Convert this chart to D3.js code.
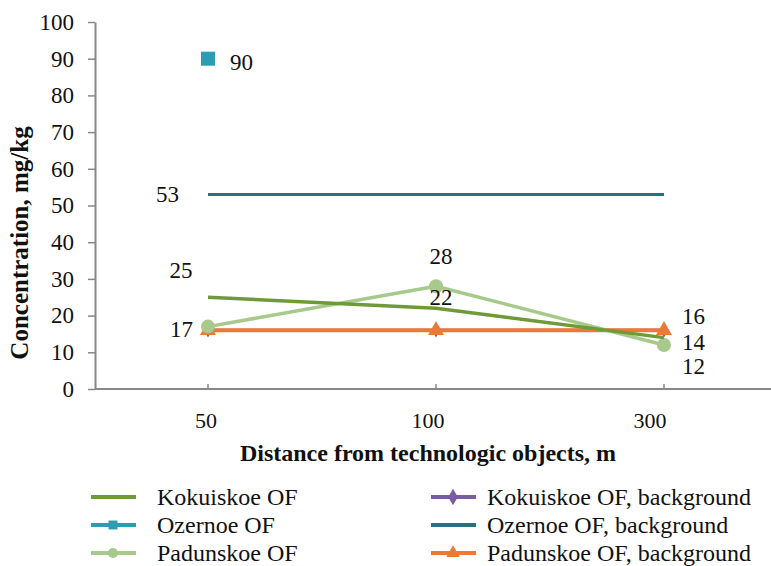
<html>
<head>
<script src="https://d3js.org/d3.v7.min.js"></script>
</head>
<body style="margin:0">
<svg id="chart" width="771" height="566"></svg>
<script>
// categories and values
var distances = ["50", "100", "300"];
var kokuiskoe = [25, 22, 14];
var ozernoe = [90, null, null];
var padunskoe = [17, 28, 12];
var kokuiskoeBg = [16, 16, 16];
var ozernoeBg = [53, 53, 53];
var padunskoeBg = [16, 16, 16];
var yTicks = [0, 10, 20, 30, 40, 50, 60, 70, 80, 90, 100];

var FONT = "Times New Roman";
var svg = d3.select("#chart");

var plotLeft = 95, plotTop = 22, plotBottom = 389;
var x = d3.scalePoint().domain(distances).range([208, 664]);
var y = d3.scaleLinear().domain([0, 100]).range([plotBottom, plotTop]);

// y axis
var yAxis = svg.append("g").attr("transform", "translate(" + plotLeft + ",0)")
  .call(d3.axisLeft(y).tickValues(yTicks).tickSize(7).tickSizeOuter(0));
yAxis.attr("font-family", FONT).attr("font-size", "23px");
yAxis.select(".domain").attr("stroke", "#888").attr("stroke-width", 2);
yAxis.selectAll(".tick line").attr("stroke", "#888").attr("stroke-width", 1.5);
yAxis.selectAll(".tick text").attr("x", -21).attr("fill", "#111");

// x axis line
svg.append("line").attr("x1", plotLeft).attr("x2", 771).attr("y1", plotBottom).attr("y2", plotBottom)
  .attr("stroke", "#888").attr("stroke-width", 2);
svg.selectAll(".xtick").data(distances).enter().append("line")
  .attr("x1", function(d) { return x(d); }).attr("x2", function(d) { return x(d); })
  .attr("y1", plotBottom).attr("y2", plotBottom - 5)
  .attr("stroke", "#888").attr("stroke-width", 1.5);
svg.selectAll(".xlab").data(distances).enter().append("text")
  .attr("x", function(d, i) { return x(d) - 2 - 6 * i; }).attr("y", 428)
  .attr("text-anchor", "middle").attr("font-family", FONT).attr("font-size", "22px").attr("fill", "#111")
  .text(function(d) { return d; });

// axis titles
svg.append("text").attr("x", 428).attr("y", 461).attr("text-anchor", "middle")
  .attr("font-family", FONT).attr("font-size", "24px").attr("font-weight", "bold").attr("fill", "#111")
  .text("Distance from technologic objects, m");
svg.append("text").attr("transform", "translate(28,243) rotate(-90)")
  .attr("text-anchor", "middle").attr("font-family", FONT).attr("font-size", "25px").attr("font-weight", "bold")
  .attr("fill", "#111")
  .text("Concentration, mg/kg");

var line = d3.line()
  .defined(function(d) { return d != null; })
  .x(function(d, i) { return x(distances[i]); })
  .y(function(d) { return y(d); });

function drawLine(vals, color, w) {
  svg.append("path").datum(vals).attr("d", line)
    .attr("fill", "none").attr("stroke", color).attr("stroke-width", w)
    .attr("stroke-linejoin", "round");
}

var cPurple = "#7a5ba6", cOzBg = "#2c6f80", cOrange = "#ec7a36",
    cKok = "#6f9a38", cPad = "#a7c98b", cOz = "#2a9db3";

// Kokuiskoe background (hidden under Padunskoe background)
drawLine(kokuiskoeBg, cPurple, 3);
svg.selectAll(".kbg").data(kokuiskoeBg).enter().append("path")
  .attr("d", d3.symbol().type(d3.symbolDiamond).size(60))
  .attr("transform", function(d, i) { return "translate(" + x(distances[i]) + "," + y(d) + ")"; })
  .attr("fill", cPurple);

drawLine(ozernoeBg, cOzBg, 3);
drawLine(padunskoeBg, cOrange, 4);
svg.selectAll(".pbg").data(padunskoeBg).enter().append("path")
  .attr("d", d3.symbol().type(d3.symbolTriangle).size(110))
  .attr("transform", function(d, i) { return "translate(" + x(distances[i]) + "," + y(d) + ")"; })
  .attr("fill", cOrange);

drawLine(padunskoe, cPad, 3.5);
svg.selectAll(".pad").data(padunskoe).enter().append("circle")
  .attr("cx", function(d, i) { return x(distances[i]); })
  .attr("cy", function(d) { return y(d); })
  .attr("r", 7).attr("fill", cPad);

drawLine(kokuiskoe, cKok, 3.5);

svg.selectAll(".oz").data(ozernoe.filter(function(d) { return d != null; })).enter().append("rect")
  .attr("x", function(d, i) { return x(distances[i]) - 7; })
  .attr("y", function(d) { return y(d) - 7; })
  .attr("width", 14).attr("height", 14).attr("fill", cOz);

// data labels
var labels = [
  { v: ozernoe[0], c: 0, dx: 22, dy: 3, a: "start" },
  { v: ozernoeBg[0], c: 0, dx: -29, dy: -1, a: "end" },
  { v: kokuiskoe[0], c: 0, dx: -27, dy: -27, a: "middle" },
  { v: padunskoe[0], c: 0, dx: -15, dy: 2, a: "end" },
  { v: padunskoe[1], c: 1, dx: 5, dy: -30, a: "middle" },
  { v: kokuiskoe[1], c: 1, dx: 5, dy: -11, a: "middle" },
  { v: padunskoeBg[2], c: 2, dx: 18, dy: -14, a: "start" },
  { v: kokuiskoe[2], c: 2, dx: 18, dy: 4, a: "start" },
  { v: padunskoe[2], c: 2, dx: 18, dy: 21, a: "start" }
];
svg.selectAll(".dl").data(labels).enter().append("text")
  .attr("x", function(d) { return x(distances[d.c]) + d.dx; })
  .attr("y", function(d) { return y(d.v) + d.dy; })
  .attr("dy", "0.35em").attr("text-anchor", function(d) { return d.a; })
  .attr("font-family", FONT).attr("font-size", "23px").attr("fill", "#111")
  .text(function(d) { return d.v; });

// legend
var legend = [
  { name: "Kokuiskoe OF", color: cKok, mark: null, col: 0, row: 0 },
  { name: "Ozernoe OF", color: cOz, mark: "square", col: 0, row: 1 },
  { name: "Padunskoe OF", color: cPad, mark: "circle", col: 0, row: 2 },
  { name: "Kokuiskoe OF, background", color: cPurple, mark: "diamond", col: 1, row: 0 },
  { name: "Ozernoe OF, background", color: cOzBg, mark: null, col: 1, row: 1 },
  { name: "Padunskoe OF, background", color: cOrange, mark: "triangle", col: 1, row: 2 }
];
var symbols = { square: d3.symbolSquare, circle: d3.symbolCircle, diamond: d3.symbolDiamond, triangle: d3.symbolTriangle };
var lg = svg.selectAll(".lg").data(legend).enter().append("g")
  .attr("transform", function(d) { return "translate(" + (d.col ? 431 : 91) + "," + (497 + d.row * 28) + ")"; });
lg.append("line").attr("x1", 0).attr("x2", 45).attr("y1", 0).attr("y2", 0)
  .attr("stroke", function(d) { return d.color; }).attr("stroke-width", 4);
lg.filter(function(d) { return d.mark; }).append("path")
  .attr("transform", "translate(22,0)")
  .attr("d", function(d) { return d3.symbol().type(symbols[d.mark]).size(80)(); })
  .attr("fill", function(d) { return d.color; });
lg.append("text").attr("x", function(d) { return d.col ? 56 : 66; }).attr("y", 0).attr("dy", "0.35em")
  .attr("font-family", FONT).attr("font-size", "24px").attr("fill", "#111").text(function(d) { return d.name; });
</script>
</body>
</html>
